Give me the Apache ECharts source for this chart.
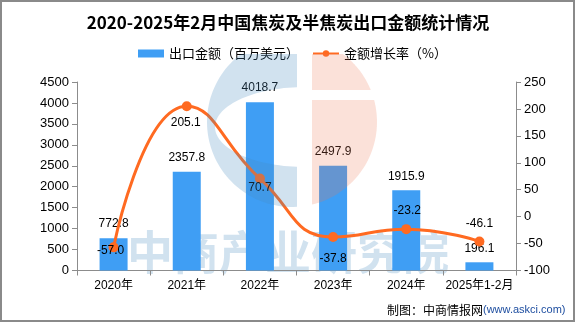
<!DOCTYPE html>
<html>
<head>
<meta charset="utf-8">
<script src="https://cdn.jsdelivr.net/npm/echarts@6/dist/echarts.min.js"></script>
<style>
html,body{margin:0;padding:0;background:#fff;}
#chart{width:576px;height:324px;}
</style>
</head>
<body>
<div id="chart"></div>
<script>
const categories = ['2020年', '2021年', '2022年', '2023年', '2024年', '2025年1-2月'];
const exportValues = [772.8, 2357.8, 4018.7, 2497.9, 1915.9, 196.1];
const growthRates = [-57.0, 205.1, 70.7, -37.8, -23.2, -46.1];
const leftTicks = { min: 0, max: 4500, interval: 500 };
const rightTicks = { min: -100, max: 250, interval: 50 };

const FONT = '"Liberation Sans", "Noto Sans CJK SC", sans-serif';
const growthLabelShift = [[-3, 3], [-1, 17], [0, 9], [0, 22], [1, -18], [0, -18]];

// decorative logo outline helpers
function arcPts(cx, cy, rx, ry, a0, a1, n) {
  const pts = [];
  for (let i = 0; i <= n; i++) {
    const a = (a0 + (a1 - a0) * i / n) * Math.PI / 180;
    pts.push([cx + rx * Math.cos(a), cy + ry * Math.sin(a)]);
  }
  return pts;
}
function angleOf(cx, cy, rx, ry, x, y) {
  return Math.atan2((y - cy) / ry, (x - cx) / rx) * 180 / Math.PI;
}
const blueOuter = arcPts(292, 122, 85, 85, angleOf(292,122,85,85,241,54) + 360, angleOf(292,122,85,85,297,206.9), 60);
const blueInner = arcPts(305, 127, 90, 40, angleOf(305,127,90,40,297,166.8), angleOf(305,127,90,40,297,87.2) + 360, 60);
const bluePoly = [[297, 54]].concat(blueOuter, [[297, 166.8]], blueInner);
const peachTop = [[312, 54]].concat(arcPts(292, 122, 85, 85, angleOf(292,122,85,85,343,54), angleOf(292,122,85,85,370.7,90), 30), [[312, 90]]);
const peachBot = [[312, 100]].concat(arcPts(292, 122, 85, 85, angleOf(292,122,85,85,374.1,100), angleOf(292,122,85,85,312,204.6), 40));

const chart = echarts.init(document.getElementById('chart'), null, { renderer: 'canvas' });
const wmColor = 'rgba(70,140,190,0.25)';
const option = {
  backgroundColor: '#fff',
  animation: false,
  textStyle: { fontFamily: FONT },
  title: {
    text: '2020-2025年2月中国焦炭及半焦炭出口金额统计情况',
    left: 'center', top: 14, padding: 0,
    textStyle: { fontSize: 17, fontWeight: 'bold', color: '#000', fontFamily: '"Noto Sans CJK SC", sans-serif' }
  },
  legend: {
    left: 133, top: 42, itemGap: 13, itemWidth: 26, itemHeight: 8,
    textStyle: { fontSize: 13, color: '#000', fontFamily: '"Noto Sans CJK SC", sans-serif' },
    data: [{ name: '出口金额（百万美元）', icon: 'rect' }, { name: '金额增长率（%）' }]
  },
  grid: { left: 77, right: 60, top: 82, bottom: 53.5 },
  xAxis: {
    type: 'category', data: categories,
    axisLine: { lineStyle: { color: '#8c8c8c', width: 1 } },
    axisTick: { show: true, length: 5, lineStyle: { color: '#8c8c8c' } },
    axisLabel: { color: '#000', fontSize: 12, margin: 9, interval: 0 }
  },
  yAxis: [{
    type: 'value', min: leftTicks.min, max: leftTicks.max, interval: leftTicks.interval,
    axisLine: { show: true, lineStyle: { color: '#8c8c8c' } },
    axisTick: { show: true, length: 5, lineStyle: { color: '#8c8c8c' } },
    splitLine: { show: false },
    axisLabel: { color: '#000', fontSize: 13, margin: 8, formatter: v => String(v) }
  }, {
    type: 'value', min: rightTicks.min, max: rightTicks.max, interval: rightTicks.interval,
    axisLine: { show: true, lineStyle: { color: '#8c8c8c' } },
    axisTick: { show: true, length: 5, lineStyle: { color: '#8c8c8c' } },
    splitLine: { show: false },
    axisLabel: { color: '#000', fontSize: 13, margin: 8, formatter: v => String(v) }
  }],
  series: [{
    name: '出口金额（百万美元）', type: 'bar', yAxisIndex: 0, barWidth: 28, z: 2,
    itemStyle: { color: '#3f9ef4' },
    label: { show: true, position: 'top', distance: 8, color: '#000', fontSize: 12,
      formatter: p => Number(p.value).toFixed(1) },
    data: exportValues
  }, {
    name: '金额增长率（%）', type: 'line', yAxisIndex: 1, smooth: true, z: 3,
    symbol: 'circle', symbolSize: 10,
    lineStyle: { color: '#ff6a21', width: 3 },
    itemStyle: { color: '#ff6a21' },
    data: growthRates.map((v, i) => ({
      value: v,
      label: { show: true, position: 'inside', offset: growthLabelShift[i], color: '#000', fontSize: 12,
        formatter: p => Number(p.value).toFixed(1) }
    }))
  }],
  graphic: [
    { type: 'text', z: 0, x: 127, y: 229,
      style: { text: '中商产业研究院', fontSize: 46, fontWeight: 'bold', fill: wmColor, fontFamily: '"Noto Sans CJK SC", sans-serif' } },
    { type: 'polygon', z: 50, shape: { points: bluePoly }, style: { fill: wmColor } },
    { type: 'polygon', z: 50, shape: { points: peachTop }, style: { fill: 'rgba(235,120,80,0.22)' } },
    { type: 'polygon', z: 50, shape: { points: peachBot }, style: { fill: 'rgba(235,120,80,0.22)' } },
    { type: 'text', z: 60, x: 387, y: 304,
      style: { text: '{a|制图：中商情报网}{b|(www.askci.com)}',
        rich: { a: { fontSize: 12, fill: '#000', fontFamily: '"Noto Sans CJK SC", sans-serif' },
                b: { fontSize: 11, fill: '#1e4ea0', fontFamily: '"Liberation Sans", sans-serif' } } } },
    { type: 'rect', z: 60, shape: { x: 1, y: 1, width: 573, height: 320 },
      style: { fill: 'none', stroke: '#8a8a8a', lineWidth: 2 } }
  ]
};
chart.setOption(option);
</script>
</body>
</html>
